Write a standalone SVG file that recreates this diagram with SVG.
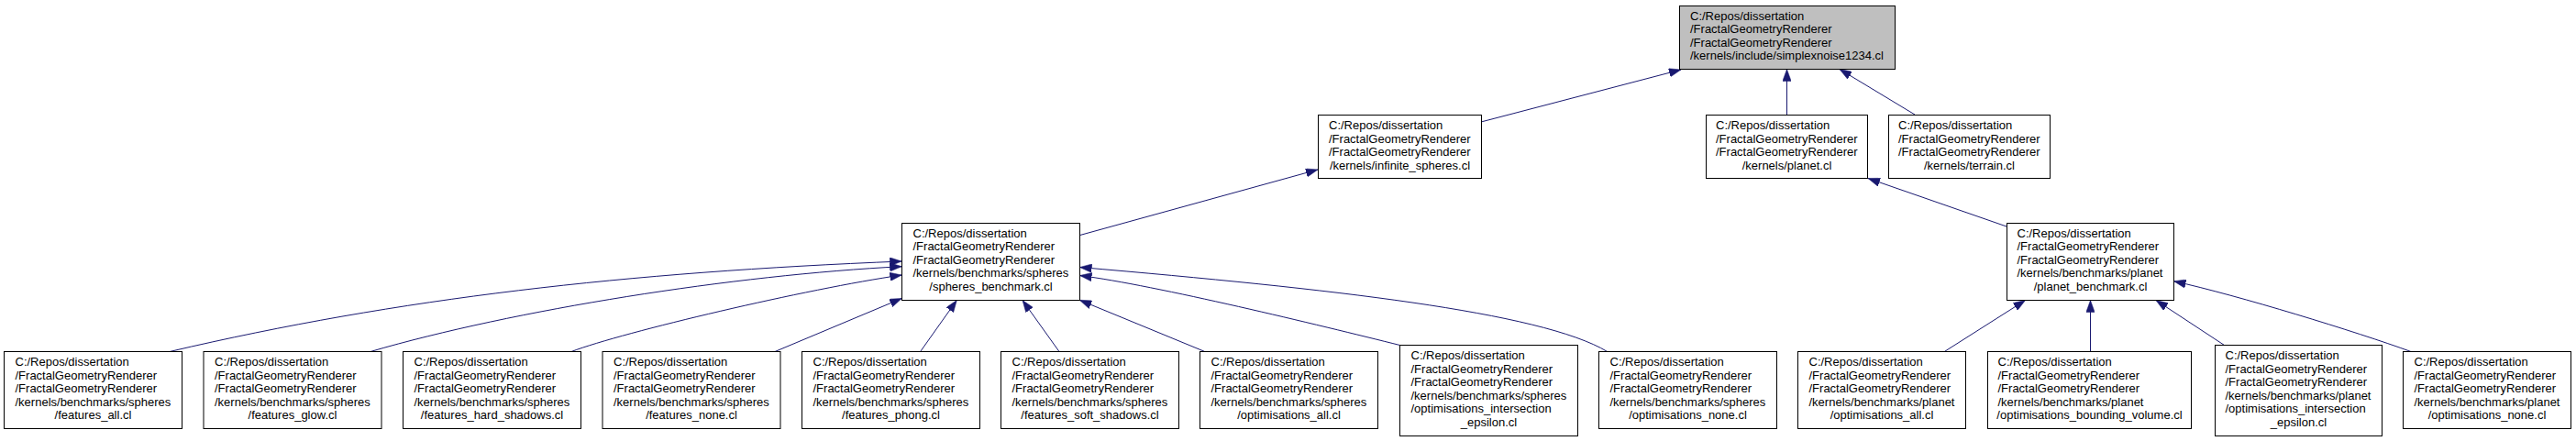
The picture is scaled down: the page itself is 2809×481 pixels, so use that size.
<svg xmlns="http://www.w3.org/2000/svg" width="2809" height="481" viewBox="0 0 2809 481">
<style>
.n rect{fill:#fff;stroke:#000;stroke-width:1}
.n.root rect{fill:#bfbfbf}
.n text{font-family:"Liberation Sans",Arial,sans-serif;font-size:13px;fill:#000}
.n text.c{text-anchor:middle}
.e path{fill:none;stroke:#191970;stroke-width:1;marker-end:url(#ah)}
</style>
<defs>
<marker id="ah" markerUnits="userSpaceOnUse" viewBox="0 0 13 9.4" markerWidth="13" markerHeight="9.4" refX="13" refY="4.7" orient="auto">
<path d="M0,0 L13,4.7 L0,9.4 Z" fill="#191970" stroke="#191970" stroke-width="0.5"/>
</marker>
</defs>
<rect width="2809" height="481" fill="#fff"/>
<g id="edges" class="e">
<path d="M1615,133 L1833,76"/>
<path d="M1948.5,125 L1948.5,75.5"/>
<path d="M2088,125 L2006,75.5"/>
<path d="M1177,256.7 L1437,185"/>
<path d="M2188,247 L2037,194.5"/>
<path d="M185,383.5 C435,325 683,297 983.3,285"/>
<path d="M404,383.5 C560,338 800,300 983.3,290.7"/>
<path d="M623,383.5 C680,362 880,315 983.3,300"/>
<path d="M845,383.5 L983.3,325.5"/>
<path d="M1003.6,383.5 L1043.3,327.5"/>
<path d="M1155,383.5 L1115,327.5"/>
<path d="M1313.8,383.5 L1177.3,327.3"/>
<path d="M1526.5,376.5 C1440,355 1260,311 1177.5,300.5"/>
<path d="M1752.7,383.5 C1680,340 1450,315 1177.5,291.5"/>
<path d="M2120.3,383.5 L2208.5,327.5"/>
<path d="M2279.5,383.5 L2279.5,327.5"/>
<path d="M2425.5,376.5 L2351,327.5"/>
<path d="M2629,383.5 C2570,362 2440,322 2370.5,306.7"/>
</g>
<g id="node_root" class="n root">
<rect x="1831.5" y="6.5" width="235" height="69"/>
<text x="1843" y="21.5">C:/Repos/dissertation</text>
<text x="1843" y="36">/FractalGeometryRenderer</text>
<text x="1843" y="50.5">/FractalGeometryRenderer</text>
<text x="1843" y="65">/kernels/include/simplexnoise1234.cl</text>
</g>
<g id="node_infinite_spheres" class="n">
<rect x="1437.5" y="125.5" width="178" height="69"/>
<text x="1449" y="141">C:/Repos/dissertation</text>
<text x="1449" y="155.5">/FractalGeometryRenderer</text>
<text x="1449" y="170">/FractalGeometryRenderer</text>
<text x="1526.5" y="184.5" class="c">/kernels/infinite_spheres.cl</text>
</g>
<g id="node_planet" class="n">
<rect x="1860.5" y="125.5" width="176" height="69"/>
<text x="1871" y="141">C:/Repos/dissertation</text>
<text x="1871" y="155.5">/FractalGeometryRenderer</text>
<text x="1871" y="170">/FractalGeometryRenderer</text>
<text x="1948.5" y="184.5" class="c">/kernels/planet.cl</text>
</g>
<g id="node_terrain" class="n">
<rect x="2059.5" y="125.5" width="176" height="69"/>
<text x="2070" y="141">C:/Repos/dissertation</text>
<text x="2070" y="155.5">/FractalGeometryRenderer</text>
<text x="2070" y="170">/FractalGeometryRenderer</text>
<text x="2147.5" y="184.5" class="c">/kernels/terrain.cl</text>
</g>
<g id="node_spheres_benchmark" class="n">
<rect x="983.5" y="243.5" width="194" height="84"/>
<text x="995.5" y="258.5">C:/Repos/dissertation</text>
<text x="995.5" y="273">/FractalGeometryRenderer</text>
<text x="995.5" y="287.5">/FractalGeometryRenderer</text>
<text x="995.5" y="302">/kernels/benchmarks/spheres</text>
<text x="1080.5" y="316.5" class="c">/spheres_benchmark.cl</text>
</g>
<g id="node_planet_benchmark" class="n">
<rect x="2188.5" y="243.5" width="182" height="84"/>
<text x="2199.5" y="258.5">C:/Repos/dissertation</text>
<text x="2199.5" y="273">/FractalGeometryRenderer</text>
<text x="2199.5" y="287.5">/FractalGeometryRenderer</text>
<text x="2199.5" y="302">/kernels/benchmarks/planet</text>
<text x="2279.5" y="316.5" class="c">/planet_benchmark.cl</text>
</g>
<g id="node_features_all" class="n">
<rect x="4.5" y="383.5" width="194" height="84"/>
<text x="16.5" y="399">C:/Repos/dissertation</text>
<text x="16.5" y="413.5">/FractalGeometryRenderer</text>
<text x="16.5" y="428">/FractalGeometryRenderer</text>
<text x="16.5" y="442.5">/kernels/benchmarks/spheres</text>
<text x="101.5" y="457" class="c">/features_all.cl</text>
</g>
<g id="node_features_glow" class="n">
<rect x="222" y="383.5" width="194" height="84"/>
<text x="234" y="399">C:/Repos/dissertation</text>
<text x="234" y="413.5">/FractalGeometryRenderer</text>
<text x="234" y="428">/FractalGeometryRenderer</text>
<text x="234" y="442.5">/kernels/benchmarks/spheres</text>
<text x="319" y="457" class="c">/features_glow.cl</text>
</g>
<g id="node_features_hard_shadows" class="n">
<rect x="439.5" y="383.5" width="194" height="84"/>
<text x="451.5" y="399">C:/Repos/dissertation</text>
<text x="451.5" y="413.5">/FractalGeometryRenderer</text>
<text x="451.5" y="428">/FractalGeometryRenderer</text>
<text x="451.5" y="442.5">/kernels/benchmarks/spheres</text>
<text x="536.5" y="457" class="c">/features_hard_shadows.cl</text>
</g>
<g id="node_features_none" class="n">
<rect x="657" y="383.5" width="194" height="84"/>
<text x="669" y="399">C:/Repos/dissertation</text>
<text x="669" y="413.5">/FractalGeometryRenderer</text>
<text x="669" y="428">/FractalGeometryRenderer</text>
<text x="669" y="442.5">/kernels/benchmarks/spheres</text>
<text x="754" y="457" class="c">/features_none.cl</text>
</g>
<g id="node_features_phong" class="n">
<rect x="874.5" y="383.5" width="194" height="84"/>
<text x="886.5" y="399">C:/Repos/dissertation</text>
<text x="886.5" y="413.5">/FractalGeometryRenderer</text>
<text x="886.5" y="428">/FractalGeometryRenderer</text>
<text x="886.5" y="442.5">/kernels/benchmarks/spheres</text>
<text x="971.5" y="457" class="c">/features_phong.cl</text>
</g>
<g id="node_features_soft_shadows" class="n">
<rect x="1091.5" y="383.5" width="194" height="84"/>
<text x="1103.5" y="399">C:/Repos/dissertation</text>
<text x="1103.5" y="413.5">/FractalGeometryRenderer</text>
<text x="1103.5" y="428">/FractalGeometryRenderer</text>
<text x="1103.5" y="442.5">/kernels/benchmarks/spheres</text>
<text x="1188.5" y="457" class="c">/features_soft_shadows.cl</text>
</g>
<g id="node_spheres_optimisations_all" class="n">
<rect x="1308.5" y="383.5" width="194" height="84"/>
<text x="1320.5" y="399">C:/Repos/dissertation</text>
<text x="1320.5" y="413.5">/FractalGeometryRenderer</text>
<text x="1320.5" y="428">/FractalGeometryRenderer</text>
<text x="1320.5" y="442.5">/kernels/benchmarks/spheres</text>
<text x="1405.5" y="457" class="c">/optimisations_all.cl</text>
</g>
<g id="node_spheres_optimisations_intersection_epsilon" class="n">
<rect x="1526.5" y="376.5" width="194" height="99"/>
<text x="1538.5" y="392">C:/Repos/dissertation</text>
<text x="1538.5" y="406.5">/FractalGeometryRenderer</text>
<text x="1538.5" y="421">/FractalGeometryRenderer</text>
<text x="1538.5" y="435.5">/kernels/benchmarks/spheres</text>
<text x="1538.5" y="450">/optimisations_intersection</text>
<text x="1623.5" y="464.5" class="c">_epsilon.cl</text>
</g>
<g id="node_spheres_optimisations_none" class="n">
<rect x="1743.5" y="383.5" width="194" height="84"/>
<text x="1755.5" y="399">C:/Repos/dissertation</text>
<text x="1755.5" y="413.5">/FractalGeometryRenderer</text>
<text x="1755.5" y="428">/FractalGeometryRenderer</text>
<text x="1755.5" y="442.5">/kernels/benchmarks/spheres</text>
<text x="1840.5" y="457" class="c">/optimisations_none.cl</text>
</g>
<g id="node_planet_optimisations_all" class="n">
<rect x="1960.5" y="383.5" width="183" height="84"/>
<text x="1972.5" y="399">C:/Repos/dissertation</text>
<text x="1972.5" y="413.5">/FractalGeometryRenderer</text>
<text x="1972.5" y="428">/FractalGeometryRenderer</text>
<text x="1972.5" y="442.5">/kernels/benchmarks/planet</text>
<text x="2052" y="457" class="c">/optimisations_all.cl</text>
</g>
<g id="node_planet_optimisations_bounding_volume" class="n">
<rect x="2167.5" y="383.5" width="222" height="84"/>
<text x="2178.5" y="399">C:/Repos/dissertation</text>
<text x="2178.5" y="413.5">/FractalGeometryRenderer</text>
<text x="2178.5" y="428">/FractalGeometryRenderer</text>
<text x="2178.5" y="442.5">/kernels/benchmarks/planet</text>
<text x="2278.5" y="457" class="c">/optimisations_bounding_volume.cl</text>
</g>
<g id="node_planet_optimisations_intersection_epsilon" class="n">
<rect x="2415.5" y="376.5" width="182" height="99"/>
<text x="2426.5" y="392">C:/Repos/dissertation</text>
<text x="2426.5" y="406.5">/FractalGeometryRenderer</text>
<text x="2426.5" y="421">/FractalGeometryRenderer</text>
<text x="2426.5" y="435.5">/kernels/benchmarks/planet</text>
<text x="2426.5" y="450">/optimisations_intersection</text>
<text x="2506.5" y="464.5" class="c">_epsilon.cl</text>
</g>
<g id="node_planet_optimisations_none" class="n">
<rect x="2620.5" y="383.5" width="183" height="84"/>
<text x="2632.5" y="399">C:/Repos/dissertation</text>
<text x="2632.5" y="413.5">/FractalGeometryRenderer</text>
<text x="2632.5" y="428">/FractalGeometryRenderer</text>
<text x="2632.5" y="442.5">/kernels/benchmarks/planet</text>
<text x="2712" y="457" class="c">/optimisations_none.cl</text>
</g>
</svg>
